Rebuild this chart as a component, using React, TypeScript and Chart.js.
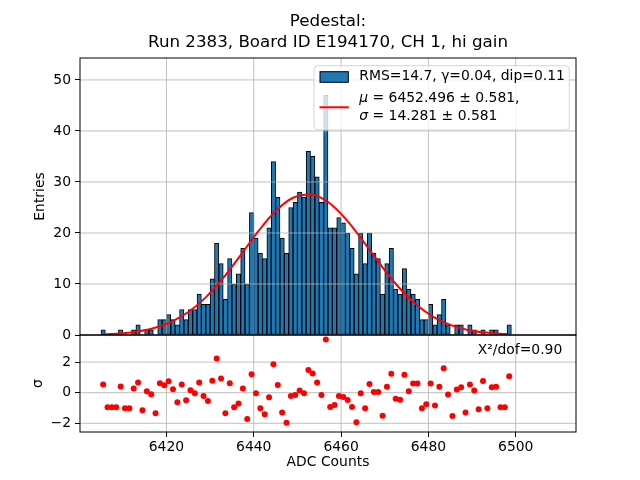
import React, { useEffect, useRef } from 'react';
import { Chart, registerables } from 'chart.js';

Chart.register(...registerables);

// ---- data ----
const BIN_START = 6405;
const BIN_WIDTH = 1;
const counts = [
  1, 0, 0, 0, 1, 0, 0, 1, 2, 0,
  1, 1, 0, 3, 3, 4, 3, 2, 5, 3,
  5, 5, 8, 6, 6, 11, 18, 14, 7, 15,
  10, 12, 17, 10, 24, 19, 16, 15, 21, 34,
  27, 19, 16, 25, 26, 28, 27, 36, 35, 31,
  26, 47, 21, 21, 23, 22, 20, 17, 12, 20,
  14, 20, 16, 15, 8, 14, 17, 9, 8, 13,
  9, 8, 7, 3, 3, 6, 2, 4, 7, 2,
  0, 2, 2, 0, 2, 1, 0, 1, 0, 1,
  1, 0, 0, 2,
];
const residuals = [
  0.54, -0.96, -0.96, -0.96, 0.41, -1.02, -1.02, 0.28, 0.67, -1.15,
  0.09, -0.11, -1.35, 0.61, 0.48, 0.74, 0.22, -0.63, 0.54, -0.5,
  0.16, -0.04, 0.67, -0.22, -0.54, 0.78, 2.24, 0.93, -1.35, 0.61,
  -0.96, -0.7, 0.28, -1.72, 1.2, -0.04, -1.02, -1.41, -0.3, 1.86,
  0.5, -1.3, -1.96, -0.22, -0.15, 0.15, -0.04, 1.48, 1.26, 0.67,
  -0.15, 3.48, -0.93, -0.8, -0.22, -0.28, -0.48, -0.93, -1.93, -0.03,
  -1.01, 0.57, 0.04, 0.04, -1.5, 0.38, 1.23, -0.4, -0.46, 1.17,
  0.1, 0.6, 0.6, -1.02, -0.75, 0.6, -0.83, 0.38, 1.6, -0.12,
  -1.52, 0.2, 0.35, -1.3, 0.54, 0.15, -1.09, 0.76, -1.02, 0.35,
  0.39, -0.96, -0.96, 1.07,
];
const fitX = [6405, 6409, 6413, 6417, 6421, 6425, 6429, 6433, 6437, 6441, 6445, 6449, 6453,
  6457, 6461, 6465, 6469, 6473, 6477, 6481, 6485, 6489, 6493, 6497, 6498];
const fitY = [0.12, 0.28, 0.64, 1.32, 2.54, 4.5, 7.38, 11.18, 15.67, 20.29, 24.3, 26.9, 27.56,
  26.08, 22.82, 18.47, 13.82, 9.56, 6.11, 3.61, 1.98, 1.0, 0.47, 0.2, 0.17];
const xTicks = [6420, 6440, 6460, 6480, 6500];
const yTicks = [0, 10, 20, 30, 40, 50];
const residTicks = [-2, 0, 2];

const titleLines = ['Pedestal:', 'Run 2383, Board ID E194170, CH 1, hi gain'];
const legendHist = 'RMS=14.7, γ=0.04, dip=0.11';
const legendMu = ' = 6452.496 ± 0.581,';
const legendSigma = ' = 14.281 ± 0.581';
const chi2Text = 'X²/dof=0.90';

const FONT = "'DejaVu Sans', 'Liberation Sans', sans-serif";
const BLUE = '#1f77b4';
const GRID = '#b0b0b0';

const fmt = (v: number) => (v < 0 ? '\u2212' + Math.abs(v) : String(v));

const decor = {
  id: 'decor',
  afterDatasetDraw(chart: any, args: any) {
    if (args.index !== 0) return;
    const { ctx, chartArea: a, scales } = chart;
    ctx.save();
    ctx.strokeStyle = GRID;
    ctx.lineWidth = 0.8;
    ctx.beginPath();
    for (const v of xTicks) {
      const px = scales.x.getPixelForValue(v);
      ctx.moveTo(px, a.top);
      ctx.lineTo(px, a.bottom);
    }
    for (const v of yTicks) {
      const py = scales.y.getPixelForValue(v);
      ctx.moveTo(a.left, py);
      ctx.lineTo(a.right, py);
    }
    for (const v of residTicks) {
      const py = scales.y2.getPixelForValue(v);
      ctx.moveTo(a.left, py);
      ctx.lineTo(a.right, py);
    }
    ctx.stroke();
    ctx.restore();
  },
  afterDraw(chart: any) {
    const { ctx, chartArea: a, scales } = chart;
    ctx.save();
    // frames
    ctx.strokeStyle = '#000';
    ctx.lineWidth = 1;
    ctx.strokeRect(a.left, scales.y.top, a.right - a.left, scales.y.bottom - scales.y.top);
    ctx.strokeRect(a.left, scales.y2.top, a.right - a.left, scales.y2.bottom - scales.y2.top);

    ctx.fillStyle = '#000';
    // title
    ctx.font = `16.7px ${FONT}`;
    ctx.textAlign = 'center';
    ctx.textBaseline = 'middle';
    const cx = (a.left + a.right) / 2;
    ctx.fillText(titleLines[0], cx, 22);
    ctx.fillText(titleLines[1], cx, 43);

    // axis labels
    ctx.font = `13.9px ${FONT}`;
    ctx.fillText('ADC Counts', cx, 462);
    ctx.save();
    ctx.translate(40, (scales.y.top + scales.y.bottom) / 2);
    ctx.rotate(-Math.PI / 2);
    ctx.fillText('Entries', 0, 0);
    ctx.restore();
    ctx.save();
    ctx.translate(38, (scales.y2.top + scales.y2.bottom) / 2);
    ctx.rotate(-Math.PI / 2);
    ctx.fillText('σ', 0, 0);
    ctx.restore();

    // chi2 text
    ctx.textAlign = 'left';
    ctx.fillText(chi2Text, 477.7, 350);

    // legend
    const lx = 314, ly = 65.7, lw = 255.3, lh = 64.3, r = 4;
    ctx.beginPath();
    ctx.moveTo(lx + r, ly);
    ctx.lineTo(lx + lw - r, ly);
    ctx.quadraticCurveTo(lx + lw, ly, lx + lw, ly + r);
    ctx.lineTo(lx + lw, ly + lh - r);
    ctx.quadraticCurveTo(lx + lw, ly + lh, lx + lw - r, ly + lh);
    ctx.lineTo(lx + r, ly + lh);
    ctx.quadraticCurveTo(lx, ly + lh, lx, ly + lh - r);
    ctx.lineTo(lx, ly + r);
    ctx.quadraticCurveTo(lx, ly, lx + r, ly);
    ctx.closePath();
    ctx.fillStyle = 'rgba(255,255,255,0.8)';
    ctx.fill();
    ctx.strokeStyle = 'rgba(204,204,204,0.8)';
    ctx.lineWidth = 1;
    ctx.stroke();

    ctx.fillStyle = BLUE;
    ctx.fillRect(320, 71.7, 28.3, 10.6);
    ctx.strokeStyle = '#000';
    ctx.lineWidth = 1;
    ctx.strokeRect(320, 71.7, 28.3, 10.6);

    ctx.strokeStyle = 'red';
    ctx.lineWidth = 2;
    ctx.beginPath();
    ctx.moveTo(319.5, 107.3);
    ctx.lineTo(348.8, 107.3);
    ctx.stroke();

    ctx.fillStyle = '#000';
    ctx.textBaseline = 'middle';
    ctx.font = `13.9px ${FONT}`;
    ctx.fillText(legendHist, 359.3, 76.7);

    ctx.font = `italic 13.9px ${FONT}`;
    ctx.fillText('μ', 359.3, 98.3);
    let w = ctx.measureText('μ').width;
    ctx.font = `13.9px ${FONT}`;
    ctx.fillText(legendMu, 359.3 + w, 98.3);

    ctx.font = `italic 13.9px ${FONT}`;
    ctx.fillText('σ', 359.3, 116);
    w = ctx.measureText('σ').width;
    ctx.font = `13.9px ${FONT}`;
    ctx.fillText(legendSigma, 359.3 + w, 116);

    ctx.restore();
  },
};

export default function App() {
  const ref = useRef<HTMLCanvasElement>(null);
  useEffect(() => {
    Chart.defaults.font.family = FONT;
    Chart.defaults.font.size = 13.9;
    Chart.defaults.color = '#000';
    const histData = counts.map((c, i) => ({ x: BIN_START + i * BIN_WIDTH + BIN_WIDTH / 2, y: c }));
    const residData = residuals.map((r, i) => ({ x: BIN_START + i * BIN_WIDTH + BIN_WIDTH / 2, y: r }));
    const fitData = fitX.map((x, i) => ({ x, y: fitY[i] }));

    const tickGrid = {
      color: 'rgba(0,0,0,0)',
      tickColor: '#000',
      tickLength: 5,
      tickWidth: 1,
      drawTicks: true,
      offset: false,
    };

    const chart = new Chart(ref.current as HTMLCanvasElement, {
      type: 'bar',
      data: {
        datasets: [
          {
            type: 'bar',
            data: histData as any,
            backgroundColor: BLUE,
            borderColor: '#000',
            borderWidth: 1,
            borderSkipped: false,
            barPercentage: 1,
            categoryPercentage: 1,
            xAxisID: 'x',
            yAxisID: 'y',
            order: 3,
          } as any,
          {
            type: 'line',
            data: fitData as any,
            borderColor: 'red',
            borderWidth: 2,
            pointRadius: 0,
            fill: false,
            cubicInterpolationMode: 'monotone',
            xAxisID: 'x',
            yAxisID: 'y',
            order: 2,
          } as any,
          {
            type: 'scatter',
            data: residData as any,
            backgroundColor: 'red',
            borderColor: 'red',
            pointRadius: 3,
            pointBorderWidth: 0,
            showLine: false,
            xAxisID: 'x',
            yAxisID: 'y2',
            order: 1,
          } as any,
        ],
      },
      options: {
        responsive: false,
        animation: false,
        events: [],
        layout: { padding: { left: 0, top: 58, right: 64, bottom: 0 } },
        plugins: {
          legend: { display: false },
          tooltip: { enabled: false },
          title: { display: false },
        },
        scales: {
          x: {
            type: 'linear',
            position: 'bottom',
            offset: false,
            min: 6400.2,
            max: 6513.8,
            grid: tickGrid,
            border: { display: false },
            ticks: { color: '#000', padding: 2, maxRotation: 0, autoSkip: false, callback: (v: any) => fmt(Number(v)) },
            afterBuildTicks: (s: any) => { s.ticks = xTicks.map((v) => ({ value: v })); },
            afterFit: (s: any) => { s.height = 48; },
          },
          y2: {
            type: 'linear',
            position: 'left',
            stack: 'panels',
            stackWeight: 97,
            min: -2.57,
            max: 3.77,
            grid: tickGrid,
            border: { display: false },
            ticks: { color: '#000', padding: 4, callback: (v: any) => fmt(Number(v)) },
            afterBuildTicks: (s: any) => { s.ticks = residTicks.map((v) => ({ value: v })); },
            afterFit: (s: any) => { s.width = 80; },
          },
          y: {
            type: 'linear',
            position: 'left',
            stack: 'panels',
            stackWeight: 277,
            min: 0,
            max: 54.3,
            grid: tickGrid,
            border: { display: false },
            ticks: { color: '#000', padding: 4, callback: (v: any) => fmt(Number(v)) },
            afterBuildTicks: (s: any) => { s.ticks = yTicks.map((v) => ({ value: v })); },
            afterFit: (s: any) => { s.width = 80; },
          },
        } as any,
      },
      plugins: [decor as any],
    });
    return () => chart.destroy();
  }, []);

  return (
    <canvas
      ref={ref}
      width={640}
      height={480}
      style={{ position: 'absolute', left: 0, top: 0, width: 640, height: 480 }}
    />
  );
}
